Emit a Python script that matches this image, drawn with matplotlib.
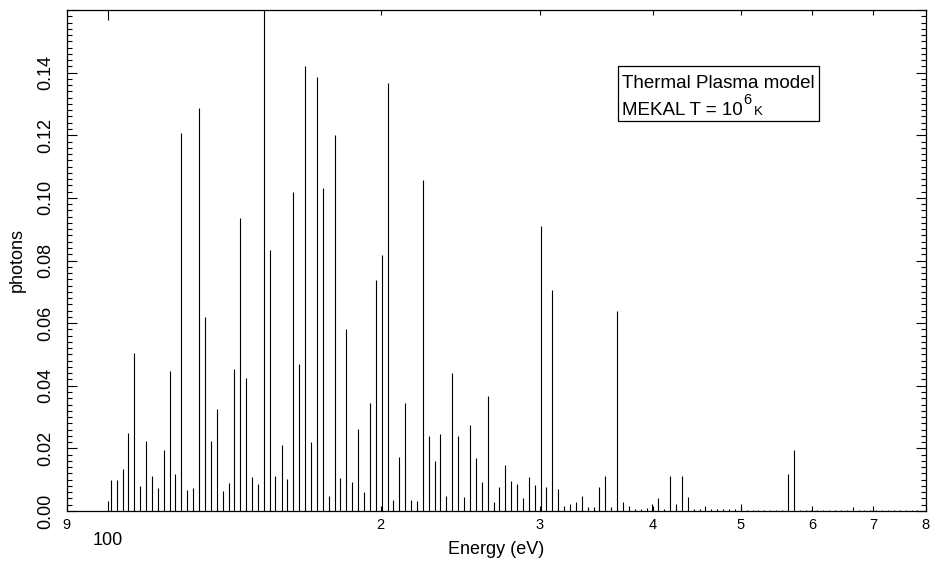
import matplotlib
matplotlib.use("Agg")
import matplotlib.pyplot as plt
from matplotlib.ticker import FixedLocator, FixedFormatter, NullFormatter
from matplotlib.patches import Rectangle

plt.rcParams['font.family'] = ['Liberation Sans', 'DejaVu Sans']

# ---- data ----
energy_ev = [100.7, 102.2, 103.8, 105.3, 106.9, 108.5, 110.2, 111.8, 113.5, 115.2,
             117.0, 118.7, 120.5, 122.3, 124.2, 126.1, 128.0, 129.9, 131.8, 133.8,
             135.9, 137.9, 140.0, 142.1, 144.2, 146.4, 148.6, 150.9, 153.1, 155.5,
             157.8, 160.2, 162.6, 165.1, 167.6, 170.1, 172.6, 175.3, 177.9, 180.6,
             183.3, 186.1, 188.9, 191.7, 194.6, 197.6, 200.5, 203.6, 206.6, 209.8,
             212.9, 216.1, 219.4, 222.7, 226.1, 229.5, 232.9, 236.5, 240.0, 243.6,
             247.3, 251.1, 254.8, 258.7, 262.6, 266.6, 270.6, 274.7, 278.8, 283.0,
             287.3, 291.6, 296.0, 300.5, 305.0, 309.6, 314.3, 319.0, 323.8, 328.7,
             333.7, 338.7, 343.8, 349.0, 354.3, 359.6, 365.1, 370.6, 376.2, 381.8,
             387.6, 393.4, 399.4, 405.4, 411.5, 417.7, 424.0, 430.4, 436.9, 443.5,
             450.2, 457.0, 463.9, 470.9, 478.0, 485.2, 492.5, 500.0, 507.5, 515.2,
             523.0, 530.8, 538.9, 547.0, 555.2, 563.6, 572.1, 580.8, 589.5, 598.4,
             607.4, 616.6, 625.9, 635.4, 644.9, 654.7, 664.5, 674.6, 684.8, 695.1,
             705.6, 716.2, 727.0, 738.0, 749.1, 760.4, 771.9, 783.6]

photons = [0.0098, 0.0098, 0.0135, 0.0249, 0.0503, 0.0079, 0.0222, 0.0112, 0.0073, 0.0195,
           0.0448, 0.0117, 0.1206, 0.0068, 0.0075, 0.1288, 0.0618, 0.0223, 0.0325, 0.0063,
           0.0091, 0.0454, 0.0936, 0.0425, 0.0110, 0.0086, 0.1620, 0.0833, 0.0111, 0.0211,
           0.0102, 0.1018, 0.0471, 0.1422, 0.0220, 0.1387, 0.1033, 0.0047, 0.1200, 0.0105,
           0.0582, 0.0094, 0.0261, 0.0062, 0.0346, 0.0738, 0.0819, 0.1366, 0.0036, 0.0171,
           0.0345, 0.0035, 0.0033, 0.1056, 0.0241, 0.0159, 0.0246, 0.0047, 0.0442, 0.0240,
           0.0044, 0.0275, 0.0168, 0.0094, 0.0366, 0.0029, 0.0077, 0.0147, 0.0095, 0.0087,
           0.0040, 0.0108, 0.0083, 0.0910, 0.0077, 0.0705, 0.0071, 0.0015, 0.0021, 0.0030,
           0.0049, 0.0013, 0.0012, 0.0076, 0.0112, 0.0012, 0.0639, 0.0030, 0.0016, 0.0007,
           0.0006, 0.0011, 0.0022, 0.0042, 0.0005, 0.0111, 0.0021, 0.0113, 0.0046, 0.0005,
           0.0005, 0.0016, 0.0005, 0.0005, 0.0005, 0.0005, 0.0005, 0.0021, 0.0004, 0.0004,
           0.0004, 0.0004, 0.0004, 0.0004, 0.0004, 0.0117, 0.0196, 0.0004, 0.0004, 0.0004,
           0.0004, 0.0004, 0.0004, 0.0004, 0.0004, 0.0004, 0.0013, 0.0004, 0.0004, 0.0004,
           0.0004, 0.0004, 0.0004, 0.0004, 0.0004, 0.0004, 0.0004, 0.0004]

x_major_ticks = [100]
x_major_labels = ["100"]
x_minor_ticks = [90, 200, 300, 400, 500, 600, 700, 800]
x_minor_labels = ["9", "2", "3", "4", "5", "6", "7", "8"]
y_ticks = [0.00, 0.02, 0.04, 0.06, 0.08, 0.10, 0.12, 0.14, 0.16]
y_labels = ["0.00", "0.02", "0.04", "0.06", "0.08", "0.10", "0.12", "0.14", ""]

# ---- figure ----
W, H = 930, 573
fig = plt.figure(figsize=(W / 100, H / 100), dpi=100)
L, R, T, B = 66.6, 925.6, 10, 511
ax = fig.add_axes([L / W, 1 - B / H, (R - L) / W, (B - T) / H])

ax.vlines(energy_ev, 0, photons, color='black', linewidth=0.8)

ax.set_xscale('log')
ax.set_xlim(90, 800)
ax.set_ylim(0, 0.16)

ax.xaxis.set_major_locator(FixedLocator(x_major_ticks))
ax.xaxis.set_major_formatter(FixedFormatter(x_major_labels))
ax.xaxis.set_minor_locator(FixedLocator(x_minor_ticks))
ax.xaxis.set_minor_formatter(FixedFormatter(x_minor_labels))

ax.yaxis.set_major_locator(FixedLocator(y_ticks))
ax.yaxis.set_major_formatter(FixedFormatter(y_labels))
ax.yaxis.set_minor_locator(FixedLocator([i * 0.002 for i in range(81)]))
ax.yaxis.set_minor_formatter(NullFormatter())

for sp in ax.spines.values():
    sp.set_linewidth(0.9)

ax.tick_params(axis='both', which='both', direction='in', top=True, right=True,
               width=0.8, color='black')
ax.tick_params(axis='both', which='major', length=7.2)
ax.tick_params(axis='both', which='minor', length=3.6)
ax.tick_params(axis='x', which='major', labelsize=13, pad=15)
ax.tick_params(axis='x', which='minor', labelsize=10.5, pad=5)
ax.tick_params(axis='y', which='major', labelsize=13, pad=9)
for lab in ax.get_yticklabels():
    lab.set_rotation(90)
    lab.set_va('center')

ax.set_xlabel("Energy (eV)", fontsize=13)
ax.xaxis.set_label_coords(0.5, (511 - 550) / 501, transform=ax.transAxes)
ax.xaxis.label.set_va('center')
ax.set_ylabel("photons", fontsize=13)
ax.yaxis.set_label_coords((17 - L) / (R - L), 0.5)
ax.yaxis.label.set_va('center')

# ---- annotation box ----
def axx(px):
    return (px - L) / (R - L)

def axy(py):
    return (B - py) / (B - T)

ax.add_patch(Rectangle((axx(617.7), axy(120.7)), axx(819) - axx(617.7),
                       axy(65.7) - axy(120.7), transform=ax.transAxes,
                       fill=False, edgecolor='black', linewidth=0.9))
ax.text(axx(621.5), axy(87.7), "Thermal Plasma model", transform=ax.transAxes,
        fontsize=13.5, va='baseline', ha='left')
t2 = ax.text(axx(621.5), axy(115), "MEKAL T = 10", transform=ax.transAxes,
             fontsize=13.5, va='baseline', ha='left')
fig.canvas.draw()
bb = t2.get_window_extent(renderer=fig.canvas.get_renderer())
x_end = ax.transAxes.inverted().transform((bb.x1, bb.y0))[0]
dx = 1.0 / (R - L)
ax.text(x_end + 1 * dx, axy(104), "6", transform=ax.transAxes,
        fontsize=10.5, va='baseline', ha='left')
ax.text(x_end + 12 * dx, axy(115), "K", transform=ax.transAxes,
        fontsize=9.5, va='baseline', ha='left')

fig.savefig("out.png", dpi=100)
